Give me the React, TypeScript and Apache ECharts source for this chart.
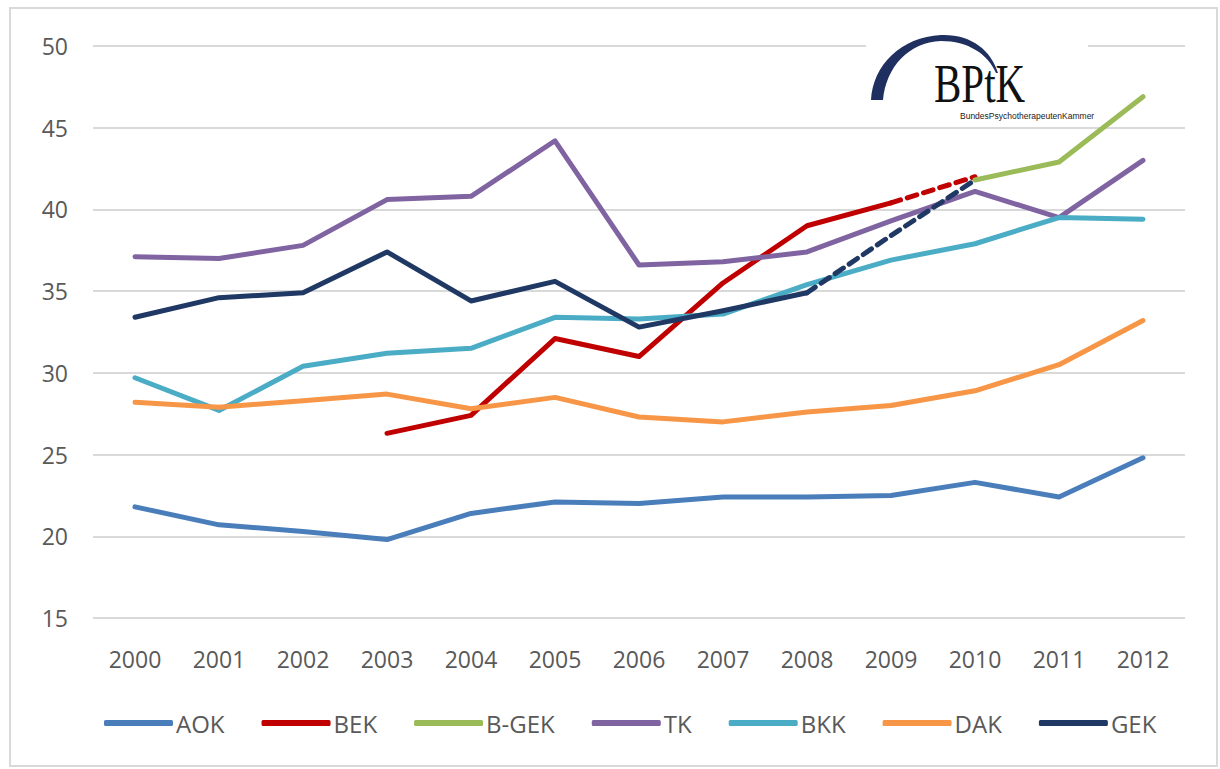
import React, { useEffect, useRef } from "react";
import * as echarts from "echarts";

const years = ["2000","2001","2002","2003","2004","2005","2006","2007","2008","2009","2010","2011","2012"];
const aok = [21.8, 20.7, 20.3, 19.8, 21.4, 22.1, 22.0, 22.4, 22.4, 22.5, 23.3, 22.4, 24.8];
const bek = [null, null, null, 26.3, 27.4, 32.1, 31.0, 35.5, 39.0, 40.4, null, null, null];
const bekProjected = [null, null, null, null, null, null, null, null, null, 40.4, 42.0, null, null];
const bgek = [null, null, null, null, null, null, null, null, null, null, 41.8, 42.9, 46.9];
const tk = [37.1, 37.0, 37.8, 40.6, 40.8, 44.2, 36.6, 36.8, 37.4, 39.3, 41.1, 39.5, 43.0];
const bkk = [29.7, 27.7, 30.4, 31.2, 31.5, 33.4, 33.3, 33.6, 35.4, 36.9, 37.9, 39.5, 39.4];
const dak = [28.2, 27.9, 28.3, 28.7, 27.8, 28.5, 27.3, 27.0, 27.6, 28.0, 28.9, 30.5, 33.2];
const gek = [33.4, 34.6, 34.9, 37.4, 34.4, 35.6, 32.8, 33.8, 34.9, null, null, null, null];
const gekProjected = [null, null, null, null, null, null, null, null, 34.9, 38.4, 41.8, null, null];
const legendNames = ["AOK", "BEK", "B-GEK", "TK", "BKK", "DAK", "GEK"];

const colors: Record<string, string> = {
  AOK: "#4a7ebb",
  BEK: "#c00000",
  "B-GEK": "#9bbb59",
  TK: "#8064a2",
  BKK: "#4bacc6",
  DAK: "#f79646",
  GEK: "#1f3864",
};

const arcPath =
  "M 0 65 C 2 30 30 2 70 0 C 100 -1 120 15 127 38 L 125 38 C 117 19 97 6 70 6 C 38 7 15 32 12 65 Z";

export default function App() {
  const ref = useRef<HTMLDivElement>(null);
  useEffect(() => {
    if (!ref.current) return;
    try {
      echarts.graphic.registerShape("logo", echarts.graphic.extendPath(arcPath as any, {}) as any);
    } catch (e) {}
    const chart = echarts.init(ref.current, null, { renderer: "svg" });
    const line = (name: string, data: any[], color: string, dashed = false) => ({
      name,
      type: "line",
      data,
      symbol: "none",
      connectNulls: false,
      lineStyle: { color, width: 5, type: dashed ? [10, 7] : "solid", cap: "round", join: "round" },
      itemStyle: { color },
      z: 2,
    });
    chart.setOption({
      animation: false,
      backgroundColor: "#ffffff",
      grid: { left: 93, right: 35, top: 46, bottom: 151 },
      xAxis: {
        type: "category",
        data: years,
        boundaryGap: true,
        axisLine: { show: false },
        axisTick: { show: false },
        axisLabel: { color: "#595959", fontSize: 23, fontFamily: "Open Sans", margin: 29 },
      },
      yAxis: {
        type: "value",
        min: 15,
        max: 50,
        interval: 5,
        axisLine: { show: false },
        axisTick: { show: false },
        splitLine: { lineStyle: { color: "#d9d9d9", width: 2 } },
        axisLabel: { color: "#595959", fontSize: 23, fontFamily: "Open Sans", margin: 25 },
      },
      legend: {
        data: legendNames,
        bottom: 29,
        left: 99,
        itemWidth: 69,
        itemHeight: 6,
        itemGap: 37,
        icon: "roundRect",
        textStyle: { color: "#595959", fontSize: 24, fontFamily: "Open Sans", padding: [0, 0, 0, -2] },
      },
      series: [
        line("AOK", aok, colors.AOK),
        line("BEK", bek, colors.BEK),
        line("BEK ", bekProjected, colors.BEK, true),
        line("B-GEK", bgek, colors["B-GEK"]),
        line("TK", tk, colors.TK),
        line("BKK", bkk, colors.BKK),
        line("DAK", dak, colors.DAK),
        line("GEK", gek, colors.GEK),
        line("GEK ", gekProjected, colors.GEK, true),
      ],
      graphic: [
        {
          type: "rect",
          shape: { x: 10, y: 8, width: 1207, height: 758 },
          style: { fill: "none", stroke: "#d9d9d9", lineWidth: 2 },
          silent: true,
        },
        {
          type: "rect",
          shape: { x: 866, y: 30, width: 222, height: 92 },
          style: { fill: "#ffffff" },
          z: 10,
          silent: true,
        },
        {
          type: "logo",
          x: 871,
          y: 35,
          style: { fill: "#1f2f5f" },
          z: 11,
          silent: true,
        },
        {
          type: "text",
          x: 934,
          y: 110,
          scaleX: 0.76,
          style: {
            text: "BPtK",
            fill: "#111111",
            font: "54px 'Liberation Serif', 'DejaVu Serif', serif",
            verticalAlign: "bottom",
            textVerticalAlign: "bottom",
          },
          z: 12,
          silent: true,
        },
        {
          type: "text",
          x: 960,
          y: 116,
          style: {
            text: "BundesPsychotherapeutenKammer",
            fill: "#222222",
            font: "8.5px 'Liberation Sans', sans-serif",
            verticalAlign: "middle",
            textVerticalAlign: "middle",
          },
          z: 12,
          silent: true,
        },
      ],
    });
    return () => chart.dispose();
  }, []);
  return (
    <div
      ref={ref}
      style={{ position: "absolute", left: 0, top: 0, width: 1220, height: 769 }}
    />
  );
}
